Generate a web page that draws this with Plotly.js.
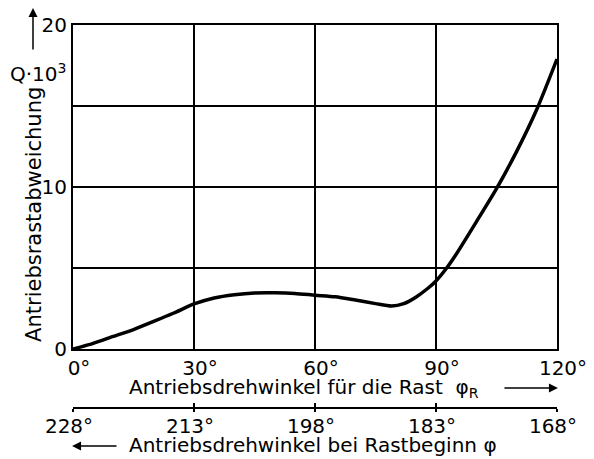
<!DOCTYPE html>
<html>
<head>
<meta charset="utf-8">
<script src="https://cdn.plot.ly/plotly-3.0.1.min.js"></script>
<style>html,body{margin:0;padding:0;background:#fff;}#chart{width:594px;height:459px;}</style>
</head>
<body>
<div id="chart"></div>
<script>
// Data
const phiR = [0, 5, 10, 15, 20, 25, 30, 35, 40, 45, 50, 55, 60, 65, 70, 75, 79, 82, 85, 88, 90, 92.5, 95, 100, 105, 110, 115, 120];
const Q = [0, 0.35, 0.78, 1.2, 1.7, 2.22, 2.78, 3.15, 3.35, 3.46, 3.47, 3.43, 3.32, 3.22, 3.02, 2.8, 2.65, 2.8, 3.2, 3.75, 4.2, 4.95, 5.85, 7.85, 9.9, 12.2, 14.8, 17.9];
const xTicks = [0, 30, 60, 90, 120];
const xTickText = ['0°', '30°', '60°', '90°', '120°'];
const phiTicks = [228, 213, 198, 183, 168];
const phiTickText = ['228°', '213°', '198°', '183°', '168°'];
const yTicks = [0, 5, 10, 15, 20];
const yTickText = ['0', '', '10', '', '20'];

const FONT = 'DejaVu Sans';
const FS = 20;

const traces = [
  {x: phiR, y: Q, type: 'scatter', mode: 'lines', line: {color: '#000', width: 3.5, shape: 'spline', smoothing: 0.7}, hoverinfo: 'skip', xaxis: 'x', yaxis: 'y'},
  {x: [phiTicks[0], phiTicks[phiTicks.length - 1]], y: [null, null], type: 'scatter', mode: 'lines', line: {width: 0}, hoverinfo: 'skip', xaxis: 'x2', yaxis: 'y'},
  {x: [phiTicks[0], phiTicks[phiTicks.length - 1]], y: [null, null], type: 'scatter', mode: 'lines', line: {width: 0}, hoverinfo: 'skip', xaxis: 'x3', yaxis: 'y'}
];

const yDomainBottom = 0.1777;
const axisPos2 = 0.0279;

const layout = {
  width: 594, height: 459,
  margin: {l: 73, r: 37, t: 25, b: 40},
  paper_bgcolor: '#fff', plot_bgcolor: '#fff',
  showlegend: false,
  font: {family: FONT, size: FS, color: '#000'},
  xaxis: {
    range: [0, 120], tickvals: xTicks, ticktext: xTickText,
    showgrid: true, gridcolor: '#000', gridwidth: 2,
    showline: true, linecolor: '#000', linewidth: 2, mirror: true,
    ticks: '', zeroline: false, anchor: 'y', ticklabelshift: 6,
    tickfont: {family: FONT, size: FS}
  },
  xaxis2: {
    range: [228, 168], tickvals: phiTicks, ticktext: phiTickText,
    overlaying: 'x', anchor: 'free', position: axisPos2, side: 'bottom',
    showgrid: false, zeroline: false, ticklabelshift: 4,
    showline: true, linecolor: '#000', linewidth: 2,
    ticks: 'inside', ticklen: 4, tickwidth: 2, tickcolor: '#000',
    tickfont: {family: FONT, size: FS}
  },
  xaxis3: {
    range: [228, 168], tickvals: phiTicks, showticklabels: false,
    overlaying: 'x', anchor: 'free', position: axisPos2, side: 'bottom',
    showgrid: false, zeroline: false, showline: false,
    ticks: 'outside', ticklen: 3, tickwidth: 2, tickcolor: '#000'
  },
  yaxis: {
    range: [0, 20], tickvals: yTicks, ticktext: yTickText,
    domain: [yDomainBottom, 1],
    showgrid: true, gridcolor: '#000', gridwidth: 2,
    showline: true, linecolor: '#000', linewidth: 2, mirror: true,
    ticks: '', zeroline: false,
    tickfont: {family: FONT, size: FS}
  },
  annotations: [
    {text: 'Antriebsdrehwinkel für die Rast  φ<sub>R</sub>', xref: 'paper', yref: 'paper', x: 0.1116, y: yDomainBottom, yshift: -24, xanchor: 'left', yanchor: 'top', showarrow: false, font: {family: FONT, size: FS}},
    {text: '', xref: 'paper', yref: 'paper', x: 1.002, y: yDomainBottom, yshift: -39, showarrow: true, ax: -55, ay: 0, arrowhead: 2, arrowsize: 1.2, arrowwidth: 1.5, arrowcolor: '#000'},
    {text: 'Antriebsdrehwinkel bei Rastbeginn φ', xref: 'paper', yref: 'paper', x: 0.1116, y: axisPos2, yshift: -23, xanchor: 'left', yanchor: 'top', showarrow: false, font: {family: FONT, size: FS}},
    {text: '', xref: 'paper', yref: 'paper', x: -0.002, y: axisPos2, yshift: -38, showarrow: true, ax: 46, ay: 0, arrowhead: 2, arrowsize: 1.2, arrowwidth: 1.5, arrowcolor: '#000'},
    {text: 'Antriebsrastabweichung', xref: 'paper', yref: 'paper', x: 0, xshift: -39, xanchor: 'center', y: 0.518, yanchor: 'middle', textangle: -90, showarrow: false, font: {family: FONT, size: 21}},
    {text: 'Q·10<sup>3</sup>', xref: 'paper', yref: 'paper', x: 0, xshift: -35, xanchor: 'center', y: 0.878, yanchor: 'middle', showarrow: false, font: {family: FONT, size: FS}},
    {text: '', xref: 'paper', yref: 'paper', x: 0, xshift: -40, y: 1, yshift: 17, showarrow: true, ax: 0, ay: 43, arrowhead: 2, arrowsize: 1.2, arrowwidth: 1.5, arrowcolor: '#000'}
  ]
};

Plotly.newPlot('chart', traces, layout, {displayModeBar: false, staticPlot: true});
</script>
</body>
</html>
